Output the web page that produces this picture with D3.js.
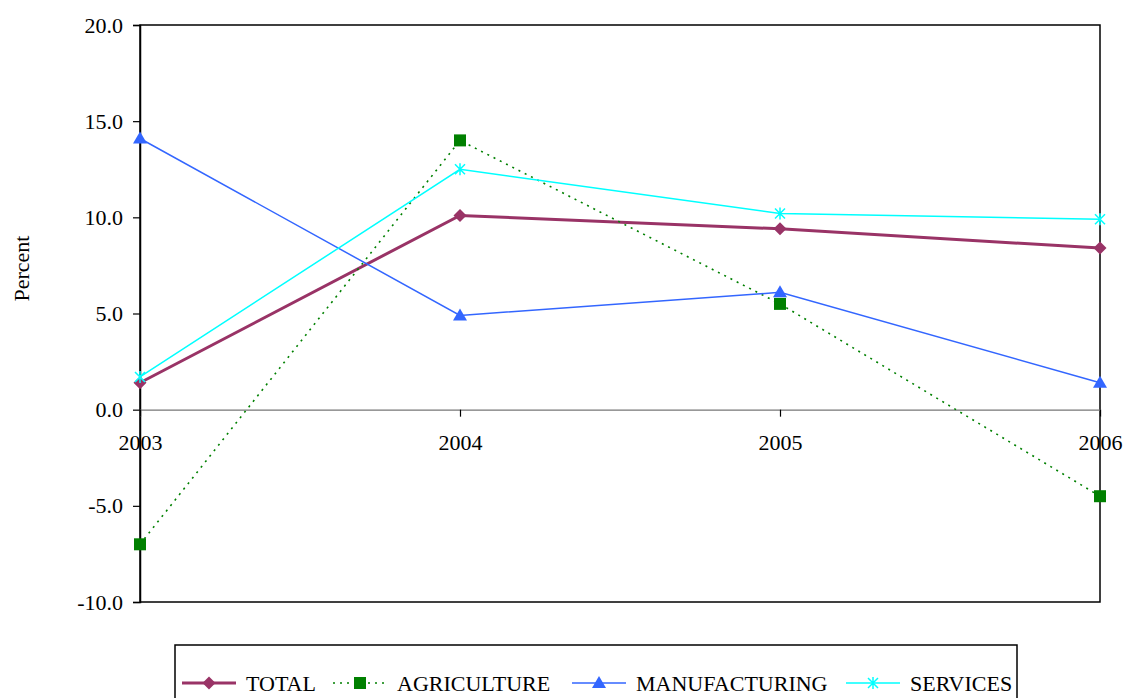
<!DOCTYPE html>
<meta charset="utf-8">
<style>
  body { margin: 0; background: #fff; }
  svg { display: block; }
  text { font-family: "Liberation Serif", "Times New Roman", serif; fill: #000; }
</style>
<body>
<script src="https://cdn.jsdelivr.net/npm/d3@7"></script>
<script>

var years = ["2003", "2004", "2005", "2006"];
var yTicks = [-10, -5, 0, 5, 10, 15, 20];

var total = [1.4, 10.1, 9.4, 8.4];
var agriculture = [-7.0, 14.0, 5.5, -4.5];
var manufacturing = [14.1, 4.9, 6.1, 1.4];
var services = [1.7, 12.5, 10.2, 9.9];

var series = [
  {name: "TOTAL", values: total, color: "#993366", width: 3, dash: null, marker: "diamond"},
  {name: "AGRICULTURE", values: agriculture, color: "#008000", width: 1.6, dash: "2,5", marker: "square"},
  {name: "MANUFACTURING", values: manufacturing, color: "#3366FF", width: 1.5, dash: null, marker: "triangle"},
  {name: "SERVICES", values: services, color: "#00FFFF", width: 1.5, dash: null, marker: "star"}
];

var W = 1125, H = 698;
var margin = {top: 25, right: 25, bottom: 96, left: 140};
var w = W - margin.left - margin.right,
    h = H - margin.top - margin.bottom;
var fontSize = "22px";

var svg = d3.select("body").append("svg")
  .attr("width", W).attr("height", H);

var g = svg.append("g")
  .attr("transform", "translate(" + margin.left + "," + margin.top + ")");

var x = d3.scalePoint().domain(years).range([0, w]);
var y = d3.scaleLinear().domain([-10, 20]).range([h, 0]);

// frame
g.append("rect")
  .attr("x", 0).attr("y", 0).attr("width", w).attr("height", h)
  .attr("fill", "none").attr("stroke", "#000").attr("stroke-width", 1.5);

// y axis
var yAxis = g.append("g")
  .call(d3.axisLeft(y).tickValues(yTicks).tickSize(7).tickPadding(10)
    .tickFormat(function(d) { return d.toFixed(1); }));
yAxis.select(".domain").attr("stroke", "#000").attr("stroke-width", 1.5);
yAxis.selectAll(".tick line").attr("stroke", "#000").attr("stroke-width", 1.2);
yAxis.selectAll("text").style("font-size", fontSize).style("font-family", "Liberation Serif");

// zero line with ticks
var xAxis = g.append("g")
  .attr("transform", "translate(0," + y(0) + ")")
  .call(d3.axisBottom(x).tickSize(7).tickPadding(18));
xAxis.select(".domain").attr("stroke", "#777").attr("stroke-width", 1.2);
xAxis.selectAll(".tick line").attr("stroke", "#000").attr("stroke-width", 1.2);
xAxis.selectAll("text").style("font-size", fontSize).style("font-family", "Liberation Serif");

// y title
svg.append("text")
  .attr("transform", "translate(29," + (margin.top + h / 2 - 45) + ") rotate(-90)")
  .attr("text-anchor", "middle")
  .style("font-size", fontSize)
  .text("Percent");

var line = d3.line()
  .x(function(d, i) { return x(years[i]); })
  .y(function(d) { return y(d); });

function marker(sel, type, color) {
  if (type === "diamond") {
    sel.append("path").attr("d", "M0,-6.5L6.5,0L0,6.5L-6.5,0Z").attr("fill", color);
  } else if (type === "square") {
    sel.append("rect").attr("x", -6).attr("y", -6).attr("width", 12).attr("height", 12)
      .attr("fill", color);
  } else if (type === "triangle") {
    sel.append("path").attr("d", "M0,-7L7,5L-7,5Z").attr("fill", color);
  } else if (type === "star") {
    var s = 5;
    sel.append("path")
      .attr("d", "M" + (-s) + "," + (-s) + "L" + s + "," + s + "M" + (-s) + "," + s + "L" + s + "," + (-s) + "M0," + (-s - 1) + "L0," + (s + 1))
      .attr("stroke", color).attr("stroke-width", 1.5).attr("fill", "none");
  }
}

series.forEach(function(s) {
  g.append("path")
    .datum(s.values)
    .attr("d", line)
    .attr("fill", "none")
    .attr("stroke", s.color)
    .attr("stroke-width", s.width)
    .attr("stroke-dasharray", s.dash);
});

series.forEach(function(s) {
  g.selectAll(null)
    .data(s.values)
    .enter()
    .append("g")
    .attr("transform", function(d, i) { return "translate(" + x(years[i]) + "," + y(d) + ")"; })
    .each(function() { marker(d3.select(this), s.marker, s.color); });
});

// legend
var legend = svg.append("g");
legend.append("rect")
  .attr("x", 175).attr("y", 645).attr("width", 842).attr("height", 60)
  .attr("fill", "none").attr("stroke", "#000").attr("stroke-width", 1.5);

var legendX = [182, 333, 572, 846];
var legendY = 683;
series.forEach(function(s, i) {
  var lg = legend.append("g").attr("transform", "translate(" + legendX[i] + "," + legendY + ")");
  lg.append("line")
    .attr("x1", 0).attr("x2", 54).attr("y1", 0).attr("y2", 0)
    .attr("stroke", s.color).attr("stroke-width", s.width)
    .attr("stroke-dasharray", s.dash);
  var m = lg.append("g").attr("transform", "translate(27,0)");
  marker(m, s.marker, s.color);
  lg.append("text")
    .attr("x", 64).attr("y", 0).attr("dy", "0.35em")
    .style("font-size", fontSize)
    .text(s.name);
});

</script>
</body>
